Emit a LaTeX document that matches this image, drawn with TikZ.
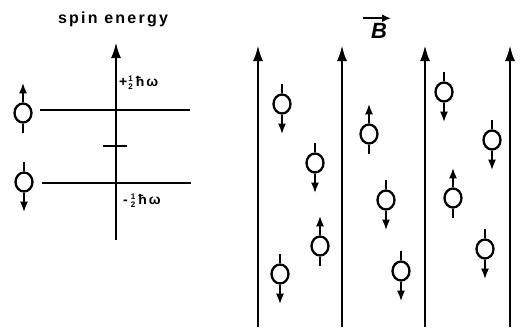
\documentclass[tikz,border=0pt]{standalone}
\usepackage{fontspec}
\setmainfont{Liberation Sans}
\newfontfamily\spaced[LetterSpace=14]{Liberation Sans}
\usetikzlibrary{arrows.meta,shapes.geometric}
\newcommand{\halfstack}{\raisebox{-3pt}{\fontsize{8}{8}\selectfont\bfseries\shortstack{1\\[-0.5pt]2}}}
\newcommand{\spinUp}[3]{%
  \node[spinc] (#1) at (#2,#3) {};
  \draw[thick line] (#1.south) -- ++(0,9);
  \draw[thick line,-{Latex[length=11pt,width=8pt]}] (#1.north) -- ++(0,-20);}
\newcommand{\spinDown}[3]{%
  \node[spinc] (#1) at (#2,#3) {};
  \draw[thick line] (#1.north) -- ++(0,-9);
  \draw[thick line,-{Latex[length=11pt,width=8pt]}] (#1.south) -- ++(0,20);}
\begin{document}
\begin{tikzpicture}[x=1pt,y=-1pt,
  thick line/.style={line width=2.4pt},
  spinc/.style={ellipse,draw,line width=2.3pt,minimum width=17pt,minimum height=19pt,inner sep=0pt},
  field/.style={line width=2.6pt,-{Latex[length=16pt,width=10pt]}},
  lbl/.style={inner sep=0pt,font=\fontsize{14}{14}\selectfont\bfseries}]
\useasboundingbox (0,0) rectangle (524,335);
% left energy diagram
\node[inner sep=0pt,font=\fontsize{16}{16}\selectfont\bfseries\spaced] (title) at (113,19) {spin energy};
\coordinate (axb) at (116,240);
\coordinate (axt) at (116,42);
\draw[field] (axb) -- (axt);
\coordinate (u1) at (40,110); \coordinate (u2) at (190,110);
\coordinate (d1) at (42,183); \coordinate (d2) at (191,183);
\coordinate (t1) at (103,146); \coordinate (t2) at (127,146);
\draw[thick line] (u1) -- (u2);
\draw[thick line] (d1) -- (d2);
\draw[thick line] (t1) -- (t2);
\node[lbl,anchor=west] (eplus) at (119,83) {+\hspace{1pt}\halfstack\hspace{3pt}ħ\hspace{2pt}ω};
\node[lbl,anchor=west] (eminus) at (123,201) {-\hspace{3pt}\halfstack\hspace{3pt}ħ\hspace{2pt}ω};
\spinUp{lu}{23}{113}
\spinDown{ld}{24}{182}
% field lines
\foreach \x/\n in {258/f1,342/f2,425/f3,510/f4}{
  \coordinate (\n b) at (\x,327);
  \coordinate (\n t) at (\x,45);
  \draw[field] (\n b) -- (\n t);
}
\node[inner sep=0pt,font=\fontsize{22}{22}\selectfont\bfseries\itshape] (B) at (379,31) {B};
\draw[line width=1.9pt,-{Latex[length=9pt,width=8pt]}] ([xshift=-16pt,yshift=5pt]B.north) -- ([xshift=12pt,yshift=5pt]B.north);
% spins
\spinDown{s1}{282}{104}
\spinDown{s2}{315}{163}
\spinUp{s3}{369}{134}
\spinDown{s4}{444}{92}
\spinDown{s5}{492}{140}
\spinDown{s6}{386}{200}
\spinUp{s7}{453}{198}
\spinUp{s8}{320}{246}
\spinDown{s9}{280}{274}
\spinDown{s10}{401}{271}
\spinDown{s11}{485}{249}
\end{tikzpicture}
\end{document}
